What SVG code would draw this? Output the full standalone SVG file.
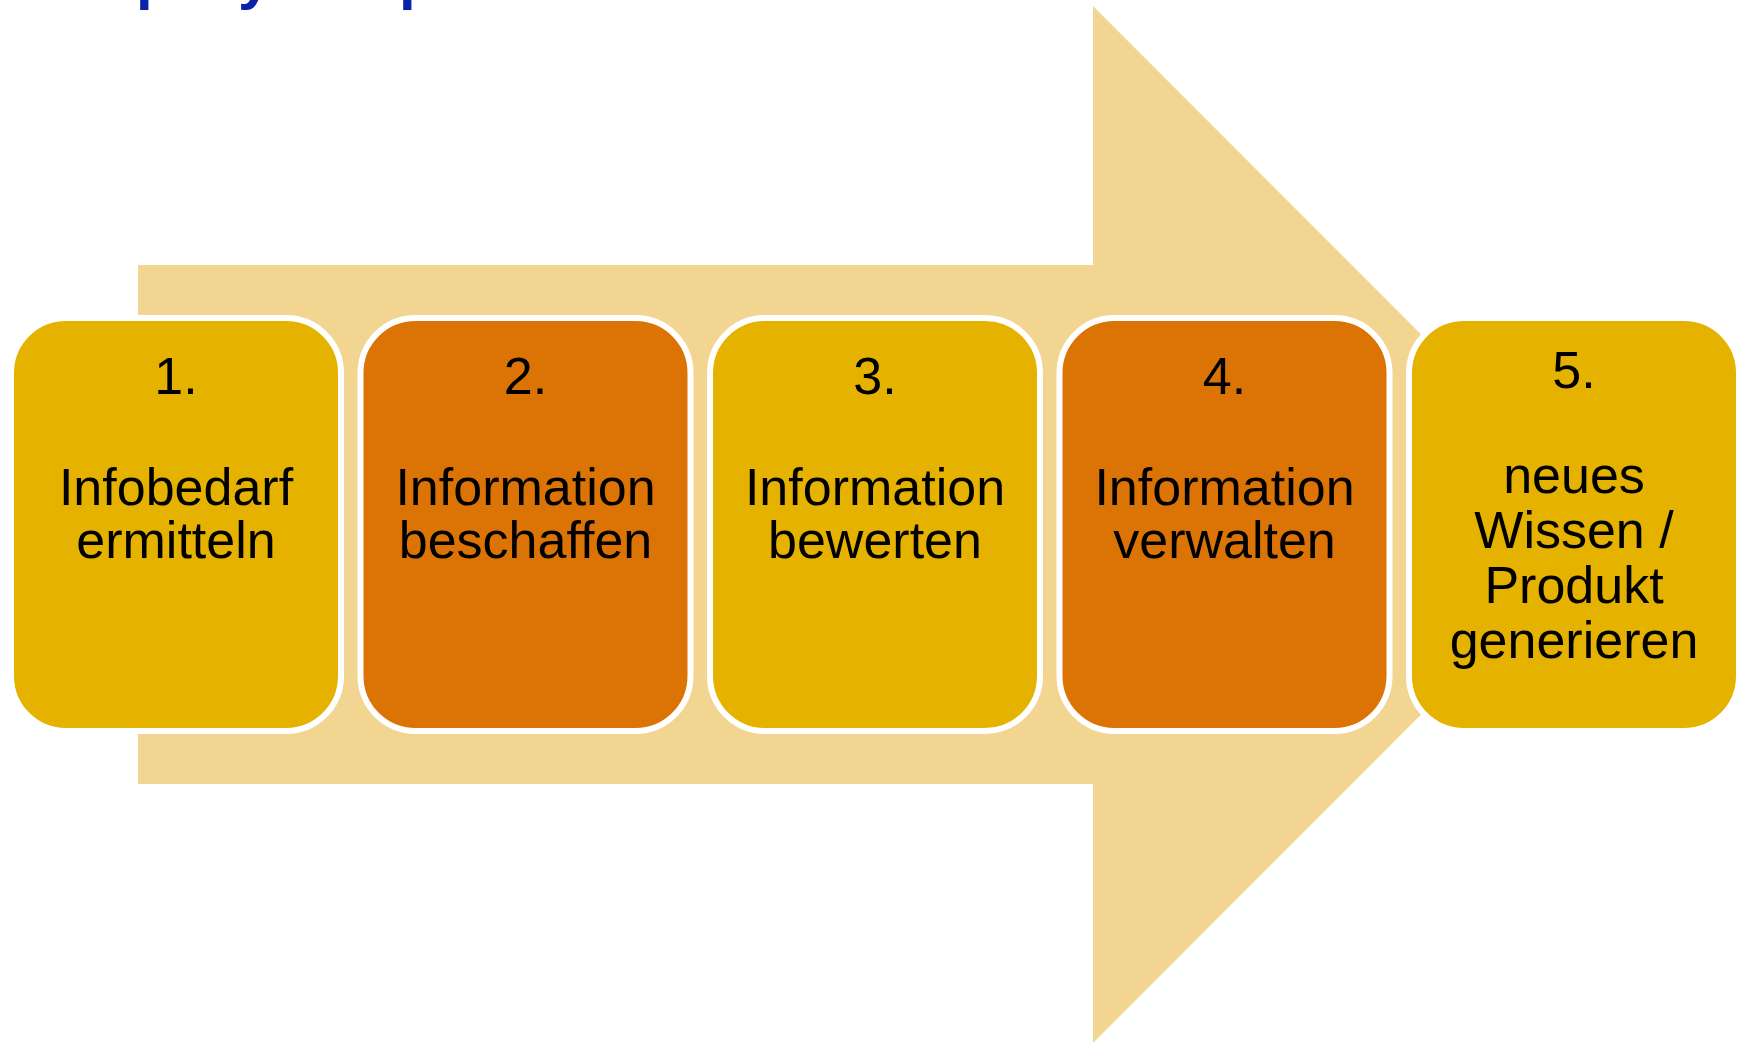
<svg xmlns="http://www.w3.org/2000/svg" width="1742" height="1044" viewBox="0 0 1742 1044">
<style>
.box{stroke:#ffffff;stroke-width:6}
.y{fill:#E6B200}
.o{fill:#DB7305}
.t{font-family:"Liberation Sans",Arial,sans-serif;font-size:52px;fill:#000000;text-anchor:middle}
.title{font-family:"Liberation Sans",Arial,sans-serif;font-size:60px;font-weight:bold;fill:#0A22A8}
</style>
<rect width="1742" height="1044" fill="#ffffff"/>
<text class="title" y="-2"><tspan x="136">p</tspan><tspan x="238">y</tspan><tspan x="399">p</tspan></text>
<g id="connectors">
<polygon id="big-arrow" points="138,265 1093,265 1093,6 1611,524.5 1093,1043 1093,784 138,784" fill="#F2D590"/>
</g>
<g id="node1">
<rect class="box y" x="11" y="318" width="330" height="413" rx="55"/>
<text class="t"><tspan x="176" y="394">1.</tspan><tspan x="176" y="505">Infobedarf</tspan><tspan x="176" y="558">ermitteln</tspan></text>
</g>
<g id="node2">
<rect class="box o" x="360.5" y="318" width="330" height="413" rx="55"/>
<text class="t"><tspan x="525.5" y="394">2.</tspan><tspan x="525.5" y="505">Information</tspan><tspan x="525.5" y="558">beschaffen</tspan></text>
</g>
<g id="node3">
<rect class="box y" x="710" y="318" width="330" height="413" rx="55"/>
<text class="t"><tspan x="875" y="394">3.</tspan><tspan x="875" y="505">Information</tspan><tspan x="875" y="558">bewerten</tspan></text>
</g>
<g id="node4">
<rect class="box o" x="1059.5" y="318" width="330" height="413" rx="55"/>
<text class="t"><tspan x="1224.5" y="394">4.</tspan><tspan x="1224.5" y="505">Information</tspan><tspan x="1224.5" y="558">verwalten</tspan></text>
</g>
<g id="node5">
<rect class="box y" x="1409" y="318" width="330" height="413" rx="55"/>
<text class="t"><tspan x="1574" y="388">5.</tspan><tspan x="1574" y="493">neues</tspan><tspan x="1574" y="548">Wissen /</tspan><tspan x="1574" y="603">Produkt</tspan><tspan x="1574" y="658">generieren</tspan></text>
</g>
</svg>
